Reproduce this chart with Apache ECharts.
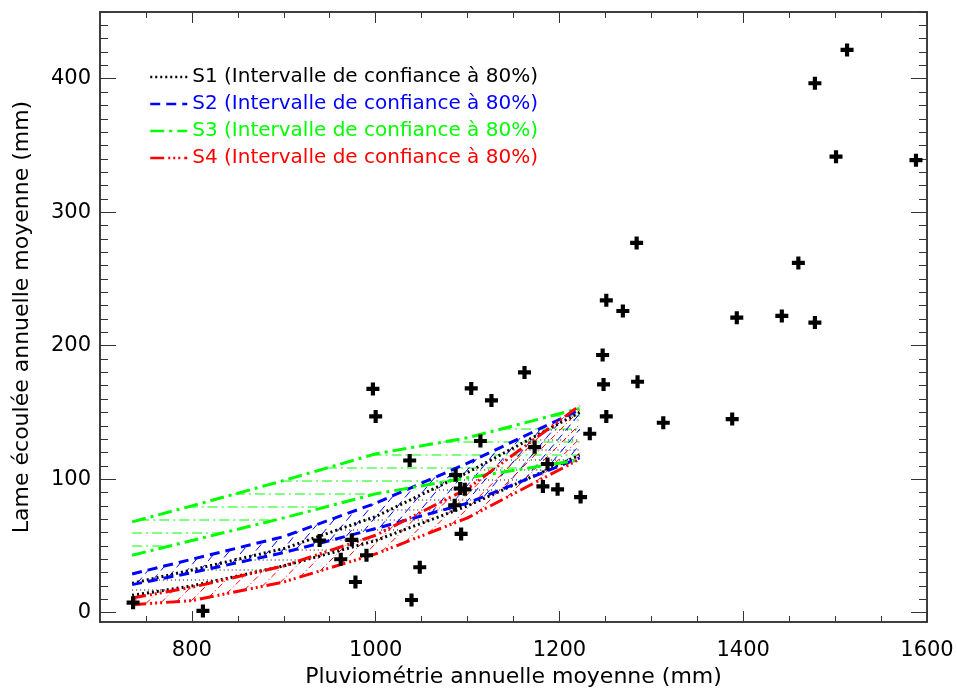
<!DOCTYPE html>
<html><head><meta charset="utf-8">
<script src="https://cdn.jsdelivr.net/npm/echarts@6/dist/echarts.min.js"></script>
<style>html,body{margin:0;padding:0;background:#fff}#c{width:957px;height:689px}</style>
</head><body><div id="c"></div>
<script>
// ---- data ----
const bandX   = [735, 800, 900, 1000, 1100, 1222];
const s1Upper = [22, 32, 48, 72, 105, 150];
const s1Lower = [13, 20, 35, 54, 80, 118];
const s2Upper = [29, 40, 57, 82, 112, 152];
const s2Lower = [21, 30, 45, 63, 82, 116];
const s3Upper = [68, 80, 99, 119, 131, 153];
const s3Lower = [43, 54, 71, 89, 101, 114.5];
const s4Upper = [11, 19, 35, 58, 93, 155];
const s4Lower = [6, 9, 23, 44, 71, 115];

const obsRain   = [736, 812, 939, 962, 974, 978, 990, 997, 1000, 1037, 1039, 1048, 1086, 1087, 1092, 1097, 1093, 1104, 1114, 1126, 1162, 1173, 1187, 1182, 1198, 1223, 1233, 1247, 1248, 1251, 1251, 1269, 1284, 1285, 1313, 1388, 1393, 1442, 1460, 1478, 1478, 1501, 1513, 1588];
const obsRunoff = [7.5, 1.3, 54, 40, 54.5, 23, 43, 167.6, 147, 114, 9.5, 34, 80.5, 103, 93, 92.4, 59, 168, 128.6, 159, 180, 124, 111.4, 94.6, 92.4, 86.6, 134, 193, 171, 147, 234, 226, 277, 173, 142.3, 145, 221, 222.3, 262, 217.3, 396.6, 341.6, 421.6, 339];

const xTickLabels = [800, 1000, 1200, 1400, 1600];
const yTickLabels = [0, 100, 200, 300, 400];
const seriesNames = ['S1 (Intervalle de confiance à 80%)', 'S2 (Intervalle de confiance à 80%)', 'S3 (Intervalle de confiance à 80%)', 'S4 (Intervalle de confiance à 80%)'];

// ---- layout / style ----
const X_MIN = 700, X_MAX = 1600, Y_MIN = -7, Y_MAX = 450;
const FONT = 'DejaVu Sans';
const AX = '#333';
const colors = ['#000000', '#0000ff', '#00ff00', '#ff0000'];
const dashes = [[2, 3], [10, 6], [14, 5, 3, 5], [14, 4, 2, 3, 2, 3, 2, 4]];

function range(a, b, s) { const r = []; for (let v = a; v <= b + 1e-9; v += s) r.push(v); return r; }
const xMinor = range(750, 1550, 50);
const yMinor = range(0, 450, 10);
const plain = v => String(Math.round(v));

function xAx(pos, ticks, len, labels, extra) {
  return Object.assign({
    type: 'value', position: pos, min: X_MIN, max: X_MAX,
    axisLine: { show: true, onZero: false, lineStyle: { color: AX, width: 1.5 } },
    axisTick: { show: true, inside: true, length: len, customValues: ticks, lineStyle: { color: AX, width: 1 } },
    axisLabel: labels ? { show: true, customValues: xTickLabels, formatter: plain, fontFamily: FONT, fontSize: 21, color: '#000', margin: 18 } : { show: false },
    splitLine: { show: false }
  }, extra || {});
}
function yAx(pos, ticks, len, labels, extra) {
  return Object.assign({
    type: 'value', position: pos, min: Y_MIN, max: Y_MAX,
    axisLine: { show: true, onZero: false, lineStyle: { color: AX, width: 1.5 } },
    axisTick: { show: true, inside: true, length: len, customValues: ticks, lineStyle: { color: AX, width: 1 } },
    axisLabel: labels ? { show: true, customValues: yTickLabels, formatter: plain, fontFamily: FONT, fontSize: 21, color: '#000', margin: 9, lineHeight: 26, verticalAlign: 'middle', padding: [6, 0, 0, 0] } : { show: false },
    splitLine: { show: false }
  }, extra || {});
}

function hatch(api, up, lo, angle, spacing, style) {
  const poly = [];
  for (let i = 0; i < bandX.length; i++) poly.push(api.coord([bandX[i], up[i]]));
  for (let i = bandX.length - 1; i >= 0; i--) poly.push(api.coord([bandX[i], lo[i]]));
  const a = angle * Math.PI / 180;
  const d = [Math.cos(a), -Math.sin(a)];
  const n = [Math.sin(a), Math.cos(a)];
  let pmin = Infinity, pmax = -Infinity;
  poly.forEach(p => { const v = p[0] * n[0] + p[1] * n[1]; pmin = Math.min(pmin, v); pmax = Math.max(pmax, v); });
  const out = [];
  for (let p = Math.ceil(pmin / spacing) * spacing; p <= pmax; p += spacing) {
    const ts = [];
    for (let i = 0; i < poly.length; i++) {
      const A = poly[i], B = poly[(i + 1) % poly.length];
      const va = A[0] * n[0] + A[1] * n[1] - p, vb = B[0] * n[0] + B[1] * n[1] - p;
      if ((va < 0) !== (vb < 0)) {
        const t = va / (va - vb);
        const x = A[0] + t * (B[0] - A[0]), y = A[1] + t * (B[1] - A[1]);
        ts.push([x * d[0] + y * d[1], x, y]);
      }
    }
    ts.sort((u, v) => u[0] - v[0]);
    for (let k = 0; k + 1 < ts.length; k += 2) {
      out.push({ type: 'line', shape: { x1: ts[k][1], y1: ts[k][2], x2: ts[k + 1][1], y2: ts[k + 1][2] }, style: Object.assign({ fill: null }, style) });
    }
  }
  return out;
}

const bands = [
  [s1Upper, s1Lower], [s2Upper, s2Lower], [s3Upper, s3Lower], [s4Upper, s4Lower]
];

const series = [];
series.push({
  type: 'custom', name: 'hachures', silent: true, clip: true, z: 1,
  data: [[1000, 100]],
  renderItem: (params, api) => ({
    type: 'group', children: [].concat(
      hatch(api, s3Upper, s3Lower, 0, 13, { stroke: '#00ff00', lineWidth: 1, lineDash: [10, 4, 2, 4] }),
      hatch(api, s1Upper, s1Lower, 0, 10, { stroke: '#000', lineWidth: 1, lineDash: [1, 3] }),
      hatch(api, s2Upper, s2Lower, 50, 10, { stroke: '#0000ff', lineWidth: 1, lineDash: [8, 5] }),
      hatch(api, s4Upper, s4Lower, 45, 10, { stroke: '#ff0000', lineWidth: 1, lineDash: [6, 3, 1, 3] })
    )
  })
});
bands.forEach((b, i) => {
  series.push({ type: 'line', name: seriesNames[i], data: bandX.map((x, j) => [x, b[0][j]]), symbol: 'none', silent: true, z: 3,
    lineStyle: { color: colors[i], width: 3, type: dashes[i] }, itemStyle: { color: colors[i] } });
  series.push({ type: 'line', name: seriesNames[i] + ' ', data: bandX.map((x, j) => [x, b[1][j]]), symbol: 'none', silent: true, z: 3,
    lineStyle: { color: colors[i], width: 3, type: dashes[i] }, itemStyle: { color: colors[i] } });
});
series.push({
  type: 'scatter', name: 'obs', data: obsRain.map((x, i) => [x, obsRunoff[i]]), z: 5,
  symbol: 'path://M3.4,0H6.6V3.4H10V6.6H6.6V10H3.4V6.6H0V3.4H3.4Z', symbolSize: 13,
  itemStyle: { color: '#000', opacity: 1 }
});

const option = {
  animation: false,
  backgroundColor: '#fff',
  grid: { left: 100, right: 30, top: 12, bottom: 67, containLabel: false, outerBoundsMode: 'none' },
  legend: {
    orient: 'vertical', left: 144, top: 62, itemWidth: 37, itemHeight: 14, itemGap: 7,
    selectedMode: false,
    itemStyle: { opacity: 0, borderWidth: 0 },
    lineStyle: { width: 2.5 },
    textStyle: { fontFamily: FONT, fontSize: 20, lineHeight: 20 },
    data: seriesNames.map((n, i) => ({ name: n, textStyle: { color: colors[i] } }))
  },
  xAxis: [
    xAx('bottom', xTickLabels, 11, true, { name: 'Pluviométrie annuelle moyenne (mm)', nameLocation: 'middle', nameGap: 42, nameTextStyle: { fontFamily: FONT, fontSize: 22, color: '#000' } }),
    xAx('bottom', xMinor, 6, false),
    xAx('top', xTickLabels, 11, false),
    xAx('top', xMinor, 6, false)
  ],
  yAxis: [
    yAx('left', yTickLabels, 16, true, { name: 'Lame écoulée annuelle moyenne (mm)', nameLocation: 'middle', nameGap: 67, nameRotate: 90, nameTextStyle: { fontFamily: FONT, fontSize: 22, color: '#000' } }),
    yAx('left', yMinor, 8, false),
    yAx('right', yTickLabels, 16, false),
    yAx('right', yMinor, 8, false)
  ],
  series: series
};
const chart = echarts.init(document.getElementById('c'), null, { renderer: 'canvas' });
chart.setOption(option);
</script></body></html>
